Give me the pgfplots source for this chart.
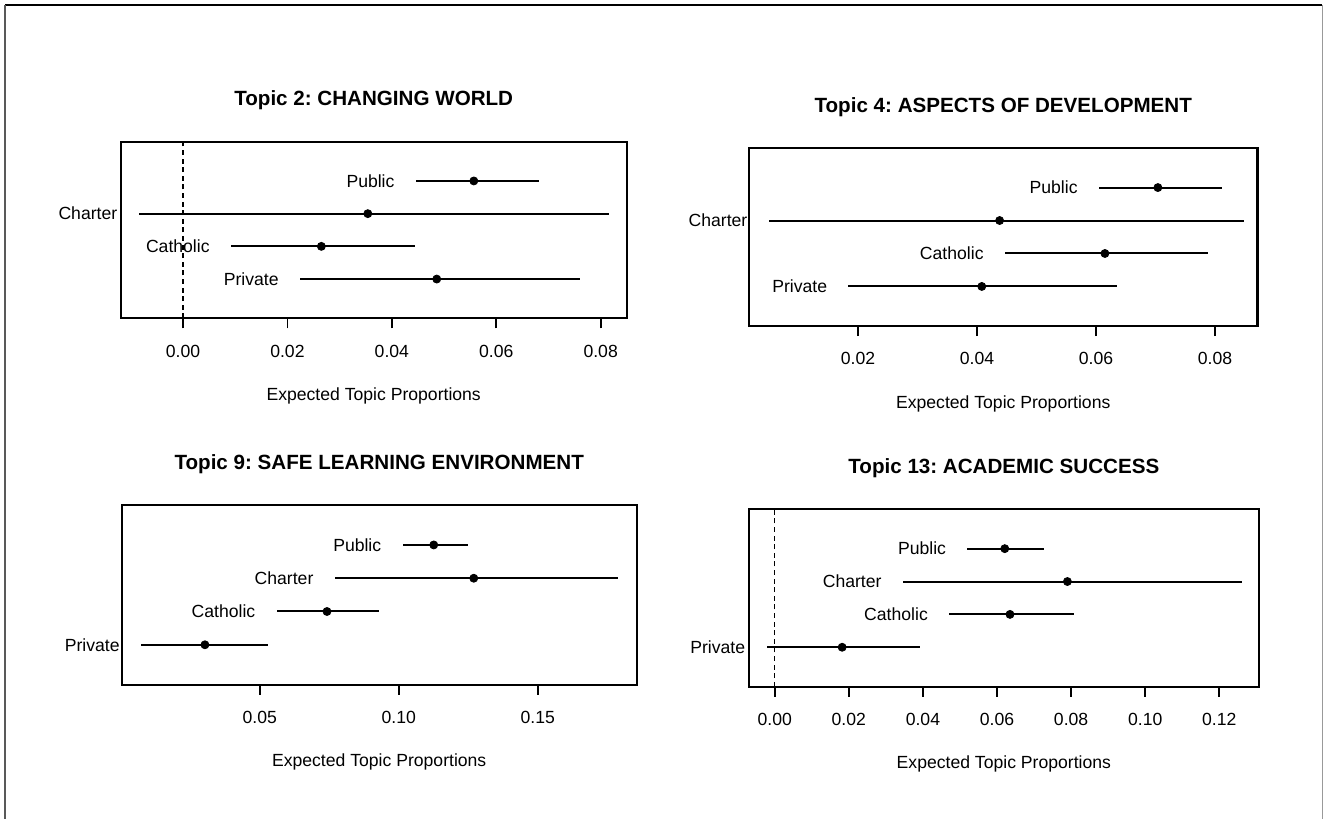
\documentclass[border=0pt]{standalone}
\usepackage{fontspec}
\setmainfont{Liberation Sans}
\usepackage{pgfplots}
\usepackage{pgfplotstable}
\pgfplotsset{compat=1.18}
\frenchspacing

\pgfplotstableread{
y lo est hi label
4 0.0446 0.0557 0.0681 Public
3 -0.0085 0.0354 0.0815 Charter
2 0.0092 0.0265 0.0444 Catholic
1 0.0224 0.0486 0.0760 Private
}\topicA
\pgfplotstableread{
y lo est hi label
4 0.0605 0.0704 0.0811 Public
3 0.0050 0.0438 0.0848 Charter
2 0.0447 0.0615 0.0789 Catholic
1 0.0184 0.0408 0.0636 Private
}\topicB
\pgfplotstableread{
y lo est hi label
4 0.1014 0.1126 0.1248 Public
3 0.0770 0.1270 0.1788 Charter
2 0.0561 0.0742 0.0929 Catholic
1 0.0073 0.0303 0.0530 Private
}\topicC
\pgfplotstableread{
y lo est hi label
4 0.0520 0.0621 0.0728 Public
3 0.0346 0.0790 0.1262 Charter
2 0.0471 0.0635 0.0808 Catholic
1 -0.0022 0.0182 0.0393 Private
}\topicD

\newcommand{\smallfont}{\fontsize{8.8}{10}\selectfont}

\pgfplotsset{
  effplot/.style={
    scale only axis, anchor=south west,
    ymin=-0.2, ymax=5.2, ytick=\empty,
    axis line style={line width=1.1pt},
    tick align=outside, xtick pos=lower, major tick length=5pt,
    every tick/.style={line width=0.9pt, black},
    scaled x ticks=false,
    tick label style={font=\smallfont},
    xticklabel style={anchor=base, yshift=-14.45pt},
    /pgf/number format/assume math mode=true,
    every axis title/.style={at={(0.5,1)}, anchor=base, yshift=18pt, font=\bfseries\fontsize{10.3}{12}\selectfont},
    every axis x label/.style={at={(0.5,0)}, anchor=base, yshift=-41pt, font=\smallfont},
    xlabel={Expected Topic Proportions},
    clip=false,
  },
  effbars/.style={only marks, mark=*, mark size=2pt, black,
    error bars/.cd, x dir=both, x explicit, error mark=none,
    error bar style={line width=1pt, black}},
  efflabels/.style={draw=none, mark=none, nodes near coords, point meta=explicit symbolic,
    every node near coord/.append style={anchor=east, inner sep=0pt, xshift=-10.5pt, font=\smallfont, black}},
}

\newcommand{\panel}[1]{%
  \addplot[effbars] table[x=est, y=y, x error plus expr=\thisrow{hi}-\thisrow{est}, x error minus expr=\thisrow{est}-\thisrow{lo}] {#1};
  \addplot[efflabels] table[x=lo, y=y, meta=label] {#1};
}

\begin{document}
\begin{tikzpicture}
\useasboundingbox (0,0) rectangle (661.5pt,-409.5pt);
\draw[line width=1pt, black] (2.5pt,-2.5pt) -- (661.2pt,-2.5pt);
\draw[line width=1pt, black!65] (2.5pt,-2.5pt) -- (2.5pt,-409.5pt);
\draw[line width=0.6pt, black!40] (661.2pt,-2.5pt) -- (661.2pt,-409.5pt);

% Topic 2
\begin{axis}[effplot, at={(60.35pt,-159.15pt)}, width=253pt, height=88.3pt,
  xmin=-0.01193, xmax=0.08498,
  xtick={0,0.02,0.04,0.06,0.08}, xticklabels={0.00,0.02,0.04,0.06,0.08},
  title={Topic 2: CHANGING WORLD}]
  \addplot[black, line width=0.7pt, dash pattern=on 2.5pt off 1.8pt] coordinates {(0,-0.2) (0,5.2)};
  \panel{\topicA}
\end{axis}

% Topic 4
\begin{axis}[effplot, at={(374.5pt,-163pt)}, width=254.25pt, height=89pt,
  xmin=0.00168, xmax=0.08714,
  xtick={0.02,0.04,0.06,0.08}, xticklabels={0.02,0.04,0.06,0.08},
  title={Topic 4: ASPECTS OF DEVELOPMENT}]
  \panel{\topicB}
\end{axis}

% Topic 9
\begin{axis}[effplot, at={(60.85pt,-342.35pt)}, width=257.5pt, height=89.85pt,
  xmin=0.00036, xmax=0.1856,
  xtick={0.05,0.10,0.15}, xticklabels={0.05,0.10,0.15},
  title={Topic 9: SAFE LEARNING ENVIRONMENT}]
  \panel{\topicC}
\end{axis}

% Topic 13
\begin{axis}[effplot, at={(374.5pt,-343.35pt)}, width=254.85pt, height=88.75pt,
  xmin=-0.00694, xmax=0.13063,
  xtick={0,0.02,0.04,0.06,0.08,0.10,0.12}, xticklabels={0.00,0.02,0.04,0.06,0.08,0.10,0.12},
  title={Topic 13: ACADEMIC SUCCESS}]
  \addplot[black, line width=0.7pt, dash pattern=on 2.5pt off 1.8pt] coordinates {(0,-0.2) (0,5.2)};
  \panel{\topicD}
\end{axis}
\end{tikzpicture}
\end{document}
